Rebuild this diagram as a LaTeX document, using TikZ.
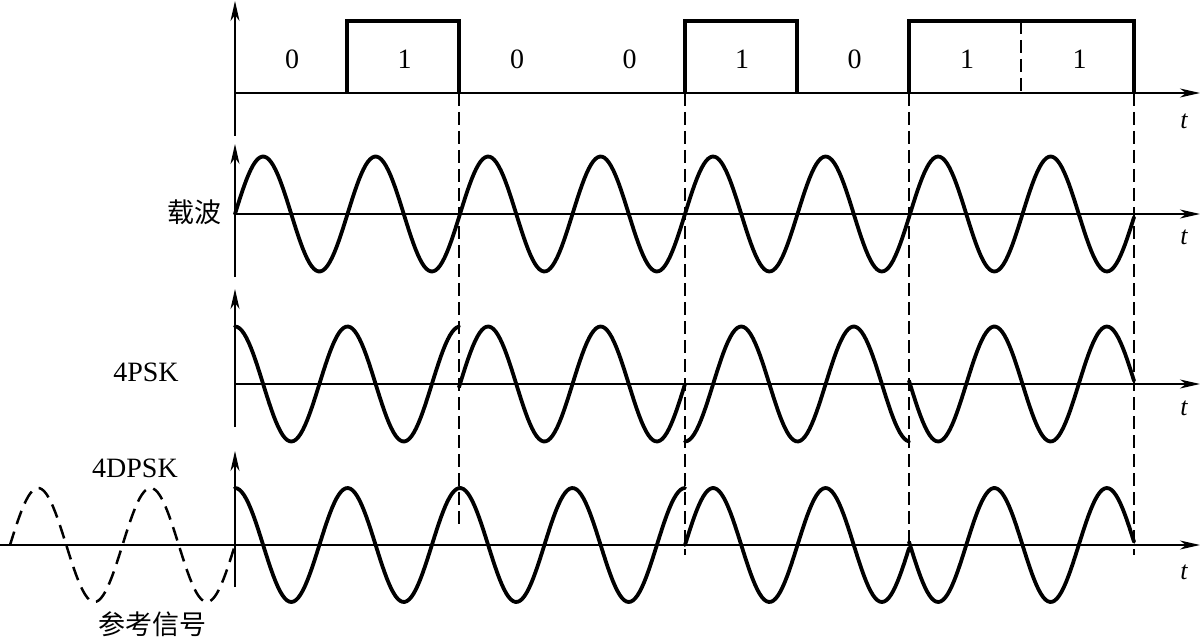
\documentclass[tikz,border=0pt]{standalone}
\usepackage{fontspec}
\setmainfont{Liberation Serif}
\newfontfamily\cjk{Noto Sans CJK SC}
\usetikzlibrary{arrows.meta}
\begin{document}
\begin{tikzpicture}[x=1pt,y=-1pt,
  axis/.style={line width=1.6pt,-{Stealth[length=20pt,width=9pt,inset=6pt]}},
  wave/.style={line width=3.8pt,line join=round,line cap=round},
  pulse/.style={line width=3.8pt,line join=miter},
  guide/.style={line width=2pt,dash pattern=on 13pt off 6pt},
  refwave/.style={line width=2.5pt,dash pattern=on 14pt off 8pt},
  lbl/.style={font=\fontsize{28}{31}\selectfont,inner sep=0pt},
  tlbl/.style={font=\fontsize{26}{29}\selectfont\itshape,inner sep=0pt},
  cjklbl/.style={font=\cjk\fontsize{27}{30}\selectfont,inner sep=0pt},
]
\useasboundingbox (0,0) rectangle (1201,639);

% ---------- data row ----------
\draw[axis] (235,136) -- (235,1);
\draw[axis] (235,93) -- (1200,93);
\node[tlbl] (t1) at (1184,121) {t};
\draw[pulse] (347,93) -- (347,21) -- (459,21) -- (459,93);
\draw[pulse] (685,93) -- (685,21) -- (797,21) -- (797,93);
\draw[pulse] (909,93) -- (909,21) -- (1134,21) -- (1134,93);
\draw[guide] (1021,21) -- (1021,93);
\foreach \b/\i in {0/0,1/1,0/2,0/3,1/4,0/5,1/6,1/7}{
  \node[lbl] (bit\i) at ({292+112.5*\i},59) {\b};
}

% ---------- carrier ----------
\draw[axis] (235,277) -- (235,144);
\draw[axis] (235,214) -- (1200,214);
\node[tlbl] (t2) at (1184,237) {t};
\node[cjklbl] (carrier) at (194,212) {载波};
\draw[wave] plot[domain=235:1134,samples=400] (\x,{214-57.5*sin(3.2*(\x-235))});

% ---------- 4PSK ----------
\draw[axis] (235,427) -- (235,289);
\draw[axis] (235,384) -- (1200,384);
\node[tlbl] (t3) at (1184,408) {t};
\node[lbl] (psk) at (146,372) {4PSK};
\draw[wave] plot[domain=235:459,samples=100] (\x,{384-57.5*cos(3.2*(\x-235))});
\draw[wave] plot[domain=459:685,samples=100] (\x,{384-57.5*sin(3.2*(\x-235))});
\draw[wave] plot[domain=685:909,samples=100] (\x,{384+57.5*cos(3.2*(\x-235))});
\draw[wave] plot[domain=909:1134,samples=100] (\x,{384+57.5*sin(3.2*(\x-235))});

% ---------- 4DPSK ----------
\draw[axis] (235,587) -- (235,451);
\draw[axis] (0,545) -- (1200,545);
\node[tlbl] (t4) at (1184,572) {t};
\node[lbl] (dpsk) at (135,468) {4DPSK};
\node[cjklbl] (ref) at (152,624) {参考信号};
\draw[refwave] plot[domain=10:235,samples=100] (\x,{545-57*sin(3.2*(\x-235))});
\draw[wave] plot[domain=235:685,samples=200] (\x,{545-57*cos(3.2*(\x-235))});
\draw[wave] plot[domain=685:909,samples=100] (\x,{545-57*sin(3.2*(\x-235))});
\draw[wave] plot[domain=909:1134,samples=100] (\x,{545+57*sin(3.2*(\x-235))});

% ---------- guide lines ----------
\draw[guide] (459,93) -- (459,528);
\draw[guide] (685,93) -- (685,555);
\draw[guide] (909,93) -- (909,545);
\draw[guide] (1134,93) -- (1134,555);
\end{tikzpicture}
\end{document}
